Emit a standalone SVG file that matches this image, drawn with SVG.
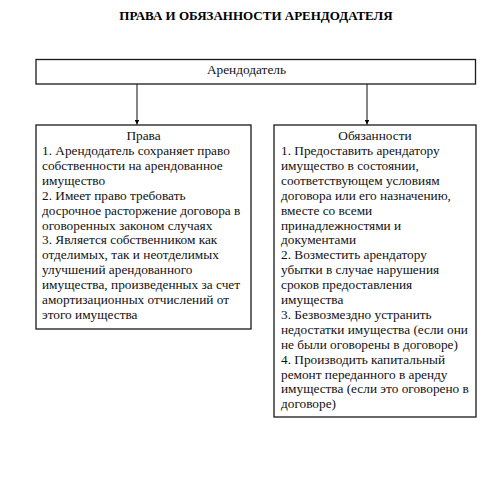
<svg xmlns="http://www.w3.org/2000/svg" width="496" height="502" viewBox="0 0 496 502">
<style>
.box{fill:#fff;stroke:#1a1a1a;stroke-width:1.3}
.c{stroke:#222;stroke-width:1.1;fill:none}
</style>
<defs>
<marker id="ah" viewBox="0 0 10 10" refX="10" refY="5" markerWidth="4.5" markerHeight="4.5" orient="auto"><path d="M0,0 L10,5 L0,10 z" fill="#000"/></marker>
</defs>
<rect width="496" height="502" fill="#fff"/>
<text font-family="Liberation Serif" font-size="13" font-weight="bold" fill="#000" x="256" y="19.5" text-anchor="middle">ПРАВА И ОБЯЗАННОСТИ АРЕНДОДАТЕЛЯ</text>
<g id="connectors">
<line class="c" x1="137" y1="84" x2="137" y2="124.5" marker-end="url(#ah)"/>
<line class="c" x1="367" y1="84" x2="367" y2="124.5" marker-end="url(#ah)"/>
</g>
<g id="arendodatel">
<rect class="box" x="36" y="59.5" width="439.5" height="24.5"/>
<text font-family="Liberation Serif" font-size="13.3" fill="#111" x="246.5" y="73.5" text-anchor="middle">Арендодатель</text>
</g>
<g id="prava">
<rect class="box" x="36" y="125" width="215" height="204"/>
<text font-family="Liberation Serif" font-size="13.3" fill="#111" x="143.5" y="140" text-anchor="middle">Права</text>
<text font-family="Liberation Serif" font-size="13.3" fill="#111" x="42" y="155">1. Арендодатель сохраняет право</text>
<text font-family="Liberation Serif" font-size="13.3" fill="#111" x="42" y="169.9">собственности на арендованное</text>
<text font-family="Liberation Serif" font-size="13.3" fill="#111" x="42" y="184.8">имущество</text>
<text font-family="Liberation Serif" font-size="13.3" fill="#111" x="42" y="199.7">2. Имеет право требовать</text>
<text font-family="Liberation Serif" font-size="13.3" fill="#111" x="42" y="214.6">досрочное расторжение договора в</text>
<text font-family="Liberation Serif" font-size="13.3" fill="#111" x="42" y="229.5">оговоренных законом случаях</text>
<text font-family="Liberation Serif" font-size="13.3" fill="#111" x="42" y="244.4">3. Является собственником как</text>
<text font-family="Liberation Serif" font-size="13.3" fill="#111" x="42" y="259.3">отделимых, так и неотделимых</text>
<text font-family="Liberation Serif" font-size="13.3" fill="#111" x="42" y="274.2">улучшений арендованного</text>
<text font-family="Liberation Serif" font-size="13.3" fill="#111" x="42" y="289.1">имущества, произведенных за счет</text>
<text font-family="Liberation Serif" font-size="13.3" fill="#111" x="42" y="304">амортизационных отчислений от</text>
<text font-family="Liberation Serif" font-size="13.3" fill="#111" x="42" y="318.9">этого имущества</text>
</g>
<g id="obyazannosti">
<rect class="box" x="274" y="125" width="202" height="292"/>
<text font-family="Liberation Serif" font-size="13.3" fill="#111" x="375" y="140" text-anchor="middle">Обязанности</text>
<text font-family="Liberation Serif" font-size="13.3" fill="#111" x="281" y="155">1. Предоставить арендатору</text>
<text font-family="Liberation Serif" font-size="13.3" fill="#111" x="281" y="169.9">имущество в состоянии,</text>
<text font-family="Liberation Serif" font-size="13.3" fill="#111" x="281" y="184.8">соответствующем условиям</text>
<text font-family="Liberation Serif" font-size="13.3" fill="#111" x="281" y="199.7">договора или его назначению,</text>
<text font-family="Liberation Serif" font-size="13.3" fill="#111" x="281" y="214.6">вместе со всеми</text>
<text font-family="Liberation Serif" font-size="13.3" fill="#111" x="281" y="229.5">принадлежностями и</text>
<text font-family="Liberation Serif" font-size="13.3" fill="#111" x="281" y="244.4">документами</text>
<text font-family="Liberation Serif" font-size="13.3" fill="#111" x="281" y="259.3">2. Возместить арендатору</text>
<text font-family="Liberation Serif" font-size="13.3" fill="#111" x="281" y="274.2">убытки в случае нарушения</text>
<text font-family="Liberation Serif" font-size="13.3" fill="#111" x="281" y="289.1">сроков предоставления</text>
<text font-family="Liberation Serif" font-size="13.3" fill="#111" x="281" y="304">имущества</text>
<text font-family="Liberation Serif" font-size="13.3" fill="#111" x="281" y="318.9">3. Безвозмездно устранить</text>
<text font-family="Liberation Serif" font-size="13.3" fill="#111" x="281" y="333.8">недостатки имущества (если они</text>
<text font-family="Liberation Serif" font-size="13.3" fill="#111" x="281" y="348.7">не были оговорены в договоре)</text>
<text font-family="Liberation Serif" font-size="13.3" fill="#111" x="281" y="363.6">4. Производить капитальный</text>
<text font-family="Liberation Serif" font-size="13.3" fill="#111" x="281" y="378.5">ремонт переданного в аренду</text>
<text font-family="Liberation Serif" font-size="13.3" fill="#111" x="281" y="393.4">имущества (если это оговорено в</text>
<text font-family="Liberation Serif" font-size="13.3" fill="#111" x="281" y="408.3">договоре)</text>
</g>
</svg>
